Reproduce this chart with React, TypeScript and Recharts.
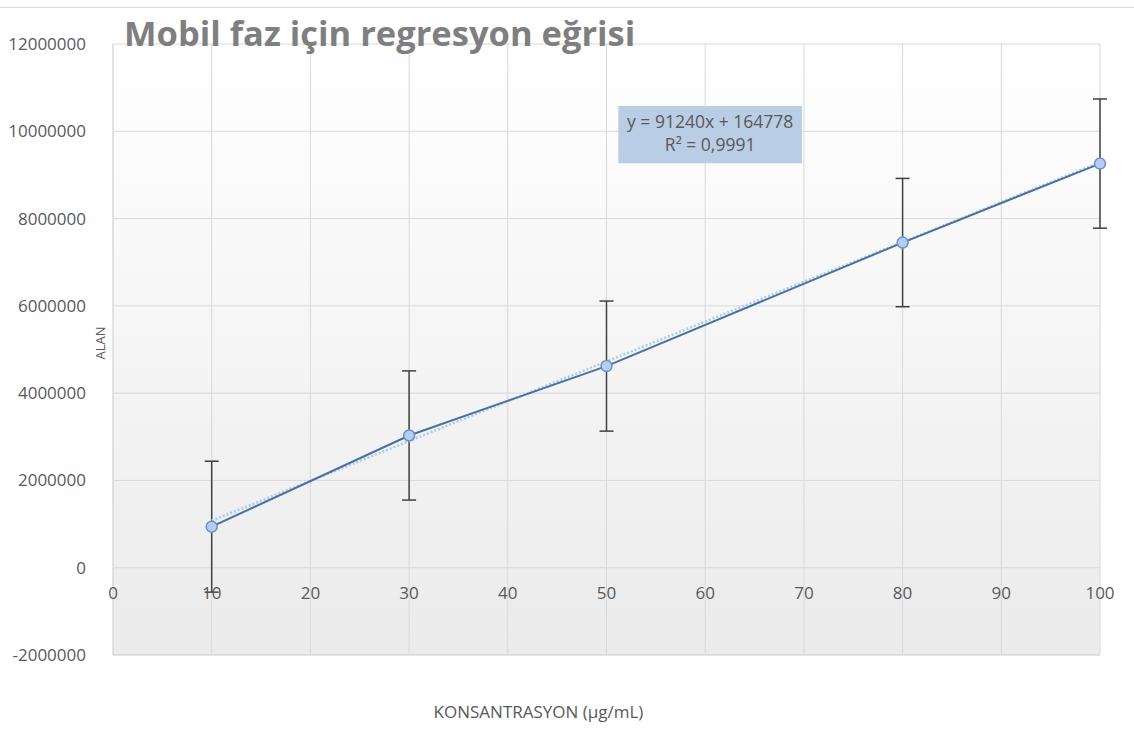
import React from 'react';
import {
  ComposedChart,
  Scatter,
  ErrorBar,
  XAxis,
  YAxis,
  CartesianGrid,
  ReferenceArea,
} from 'recharts';

const concentrations = [10, 30, 50, 80, 100];
const areas = [940000, 3030000, 4620000, 7450000, 9260000];
const errors = [1500000, 1480000, 1490000, 1470000, 1480000];

const trendX = [10, 100];
const trendY = [1077178, 9288778];

const xTicks = [0, 10, 20, 30, 40, 50, 60, 70, 80, 90, 100];
const yTicks = [-2000000, 0, 2000000, 4000000, 6000000, 8000000, 10000000, 12000000];

const title = 'Mobil faz için regresyon eğrisi';
const equation = 'y = 91240x + 164778';
const rSquared = 'R² = 0,9991';

const points = concentrations.map((x, i) => ({ x, y: areas[i], err: errors[i] }));
const trend = trendX.map((x, i) => ({ x, y: trendY[i] }));

const W = 1134;
const H = 735;
const FONT = '"Open Sans", sans-serif';
const TEXT = '#595959';

// x labels sit under the zero line, not at the plot bottom
const ZERO_SHIFT = 87;

const XTick = (props: any) => {
  const { x, y, payload } = props;
  return (
    <text x={x} y={y - ZERO_SHIFT} dy={23} textAnchor="middle" fill={TEXT} fontSize={17} fontFamily={FONT}>
      {payload.value}
    </text>
  );
};

const EquationLabel = (props: any) => {
  const { viewBox } = props;
  const cx = viewBox.x + viewBox.width / 2;
  return (
    <g fontFamily={FONT} fontSize={17.5} fill={TEXT} textAnchor="middle">
      <text x={cx} y={viewBox.y + 22}>{equation}</text>
      <text x={cx} y={viewBox.y + 45}>{rSquared}</text>
    </g>
  );
};

const YLabel = () => (
  <text x={100} y={343} transform="rotate(-90 100 343)" textAnchor="middle" dominantBaseline="central" fill={TEXT} fontSize={13} fontFamily={FONT}>
    ALAN
  </text>
);

export default function App() {
  return (
    <div style={{ position: 'absolute', left: 0, top: 0, width: W, height: H, background: '#fff' }}>
      <div style={{ position: 'absolute', left: 0, top: 7, width: W, borderTop: '1px solid #d9d9d9' }} />
      <ComposedChart
        width={W}
        height={H}
        margin={{ top: 44, right: 34, left: 0, bottom: 0 }}
      >
        <defs>
          <linearGradient id="plotBg" x1="0" y1="0" x2="0" y2="1">
            <stop offset="0%" stopColor="#ffffff" />
            <stop offset="100%" stopColor="#ebebeb" />
          </linearGradient>
        </defs>
        <CartesianGrid stroke="#d9d9d9" fill="url(#plotBg)" fillOpacity={1} />
        <XAxis
          type="number"
          dataKey="x"
          domain={[0, 100]}
          ticks={xTicks}
          height={80}
          axisLine={{ stroke: '#d9d9d9' }}
          tickLine={false}
          tick={<XTick />}
          label={{ value: 'KONSANTRASYON (µg/mL)', position: 'insideBottom', offset: 17, dx: -68, fill: TEXT, fontSize: 17, fontFamily: FONT }}
        />
        <YAxis
          type="number"
          domain={[-2000000, 12000000]}
          ticks={yTicks}
          width={113}
          axisLine={{ stroke: '#d9d9d9' }}
          tickLine={false}
          tickMargin={21}
          tick={{ fill: TEXT, fontSize: 17, fontFamily: FONT }}
          label={<YLabel />}
        />
        <ReferenceArea
          x1={51.2}
          x2={69.8}
          y1={9270000}
          y2={10580000}
          fill="#b9cde5"
          fillOpacity={1}
          stroke="none"
          label={<EquationLabel />}
        />
        <Scatter
          data={trend}
          dataKey="y"
          line={{ stroke: '#a9cbe9', strokeWidth: 2.5, strokeDasharray: '2 2' }}
          shape={() => null}
          isAnimationActive={false}
        />
        <Scatter
          data={points}
          dataKey="y"
          line={{ stroke: '#4a6fa5', strokeWidth: 2 }}
          fill="#b4cdf0"
          stroke="#6d8fc7"
          strokeWidth={1.5}
          shape={(p: any) => <circle cx={p.cx} cy={p.cy} r={5.5} fill="#b4cdf0" stroke="#6d8fc7" strokeWidth={1.5} />}
          isAnimationActive={false}
        >
          <ErrorBar dataKey="err" direction="y" width={7} stroke="#404040" strokeWidth={1.5} />
        </Scatter>
      </ComposedChart>
      <div
        style={{
          position: 'absolute',
          left: 124,
          top: 9,
          fontFamily: FONT,
          fontWeight: 700,
          fontSize: 34.5,
          color: '#7f7f7f',
          whiteSpace: 'nowrap',
          lineHeight: '48px',
        }}
      >
        {title}
      </div>
    </div>
  );
}
